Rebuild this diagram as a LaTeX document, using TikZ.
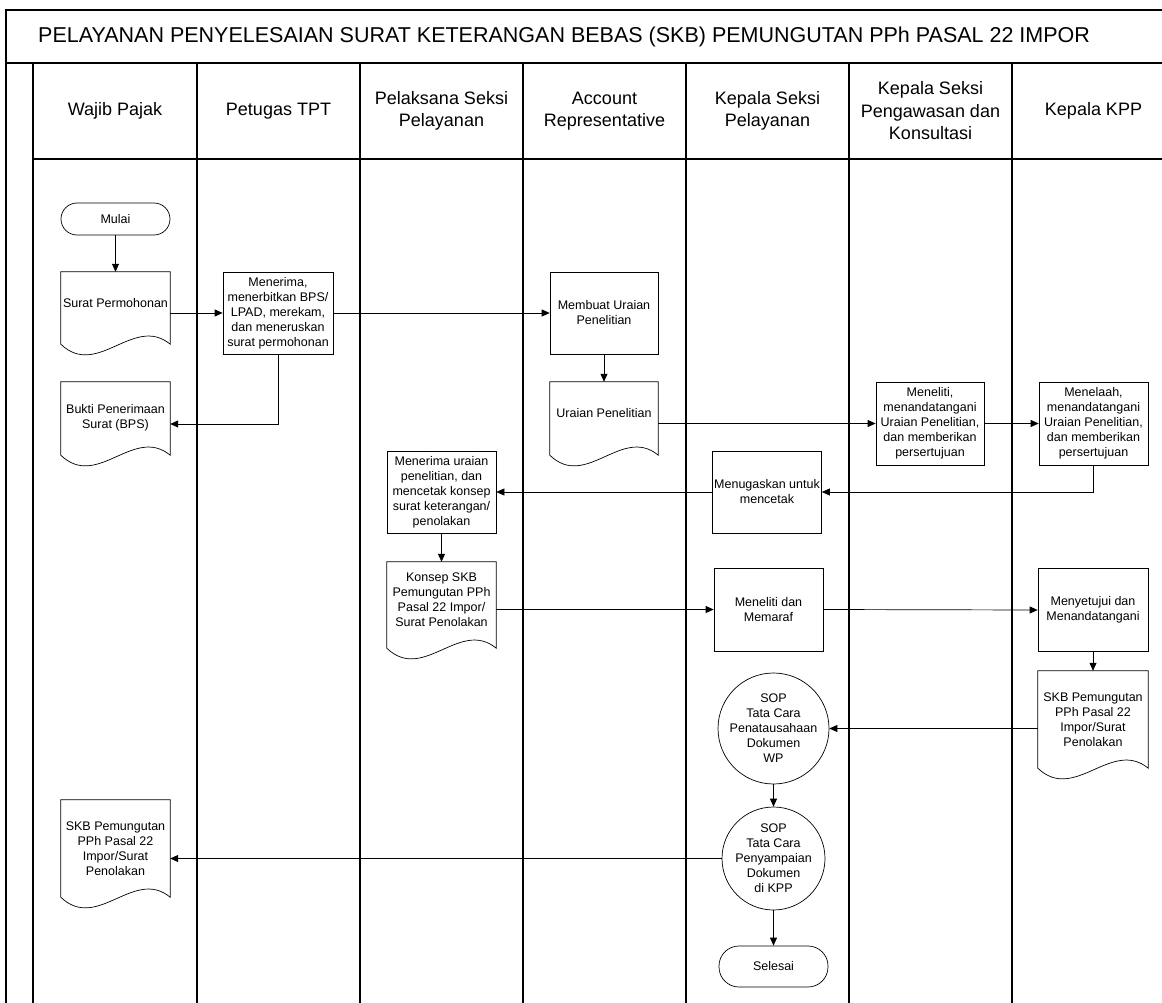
\documentclass[tikz,border=0pt]{standalone}
\usepackage{fontspec}
\setmainfont{Liberation Sans}
\usetikzlibrary{arrows.meta,calc,shapes.geometric}
\newcommand\drawdoc[2]{%
  \draw[docline] (#1.north west) -- (#1.north east) -- ($(#1.south east)+(0,#2)$)
    .. controls ($(#1.south west)!0.667!(#1.south east)+(0,#2-30)$) and ($(#1.south west)!0.333!(#1.south east)+(0,#2+35)$) ..
    ($(#1.south west)+(0,#2)$) -- cycle;}
\begin{document}
\begin{tikzpicture}[x=1pt,y=-1pt,
  frame/.style={line width=1.5pt},
  nfont/.style={font=\fontsize{12.5}{15}\selectfont},
  box/.style={draw, line width=0.7pt, rectangle, align=center, inner sep=1pt, nfont, minimum width=109pt, minimum height=82pt},
  docnode/.style={rectangle, align=center, inner sep=1pt, nfont, minimum width=109pt},
  docline/.style={line width=0.7pt},
  term/.style={draw, line width=0.7pt, rectangle, rounded corners=16pt, align=center, nfont, minimum width=109pt},
  circ/.style={draw, line width=0.7pt, circle, minimum size=97pt, inner sep=0pt, align=center, nfont},
  arr/.style={-{Triangle[length=8pt,width=7pt]}, line width=0.7pt},
  hdr/.style={align=center, font=\fontsize{18}{22.5}\selectfont},
]
\useasboundingbox (0,0) rectangle (1162,1003);
% frame
\draw[frame] (1162,10) -- (6,10) -- (6,1003);
\draw[frame] (6,63) -- (1162,63);
\draw[frame] (33,159) -- (1162,159);
\foreach \x in {33,197,360,523,686,849,1012} \draw[frame] (\x,63) -- (\x,1003);
\node[anchor=base west, font=\fontsize{21.5}{25}\selectfont, inner sep=0pt] (title) at (38,43) {PELAYANAN PENYELESAIAN SURAT KETERANGAN BEBAS (SKB) PEMUNGUTAN PPh PASAL 22 IMPOR};
% headers
\node[hdr] (h1) at (115,111) {Wajib Pajak};
\node[hdr] (h2) at (278.5,111) {Petugas TPT};
\node[hdr] (h3) at (441.5,111) {Pelaksana Seksi\\Pelayanan};
\node[hdr] (h4) at (604.5,111) {Account\\Representative};
\node[hdr] (h5) at (767.5,111) {Kepala Seksi\\Pelayanan};
\node[hdr] (h6) at (930.5,111) {Kepala Seksi\\Pengawasan dan\\Konsultasi};
\node[hdr] (h7) at (1093.5,111) {Kepala KPP};
% nodes
\node[term, minimum height=32pt] (mulai) at (115.5,219) {Mulai};
\node[docnode, minimum height=62pt] (sp) at (115.5,303) {Surat Permohonan};
\drawdoc{sp}{10}
\node[box, minimum width=110pt] (men) at (278,313) {Menerima,\\menerbitkan BPS/\\LPAD, merekam,\\dan meneruskan\\surat permohonan};
\node[docnode, minimum height=71pt] (bukti) at (115.5,417.5) {Bukti Penerimaan\\Surat (BPS)};
\drawdoc{bukti}{2}
\node[box, minimum width=108pt] (mub) at (604,313) {Membuat Uraian\\Penelitian};
\node[docnode, minimum width=108pt, minimum height=62pt] (ur) at (604,413) {Uraian Penelitian};
\drawdoc{ur}{11}
\node[box, minimum width=108pt, minimum height=83pt] (mel) at (930,423.5) {Meneliti,\\menandatangani\\Uraian Penelitian,\\dan memberikan\\persertujuan};
\node[box, minimum height=83pt] (mla) at (1093.5,423.5) {Menelaah,\\menandatangani\\Uraian Penelitian,\\dan memberikan\\persertujuan};
\node[box] (mtg) at (767,492) {Menugaskan untuk\\mencetak};
\node[box] (mru) at (441.5,492) {Menerima uraian\\penelitian, dan\\mencetak konsep\\surat keterangan/\\penolakan};
\node[docnode, minimum height=75pt] (kon) at (441.5,599.5) {Konsep SKB\\Pemungutan PPh\\Pasal 22 Impor/\\Surat Penolakan};
\drawdoc{kon}{11}
\node[box, minimum height=83pt] (mem) at (768.5,609.5) {Meneliti dan\\Memaraf};
\node[box, minimum width=110pt, minimum height=83pt] (mny) at (1093,610) {Menyetujui dan\\Menandatangani};
\node[docnode, minimum width=110pt, minimum height=97pt] (skbk) at (1093,719.5) {SKB Pemungutan\\PPh Pasal 22\\Impor/Surat\\Penolakan};
\drawdoc{skbk}{0}
\node[circ] (sop1) at (773.5,728.5) {SOP\\Tata Cara\\Penatausahaan\\Dokumen\\WP};
\node[circ] (sop2) at (773.5,858.5) {SOP\\Tata Cara\\Penyampaian\\Dokumen\\di KPP};
\node[term, minimum height=41pt, rounded corners=20pt] (sel) at (773.5,966.5) {Selesai};
\node[docnode, minimum height=97pt] (skbw) at (115.5,848.5) {SKB Pemungutan\\PPh Pasal 22\\Impor/Surat\\Penolakan};
\drawdoc{skbw}{0}
% connectors
\draw[arr] (mulai) -- (sp.north);
\draw[arr] (sp.east |- men.west) -- (men.west);
\draw[arr] (men.south) |- ([yshift=-6.5pt]bukti.east);
\draw[arr] (men.east) -- (mub.west);
\draw[arr] (mub.south) -- (ur.north);
\draw[arr] (ur.east |- mel.west) -- (mel.west);
\draw[arr] (mel.east) -- (mla.west);
\draw[arr] (mla.south) |- (mtg.east);
\draw[arr] (mtg.west) -- (mru.east);
\draw[arr] (mru.south) -- (kon.north);
\draw[arr] (kon.east |- mem.west) -- (mem.west);
\draw[arr] (mem.east) -- (mny.west);
\draw[arr] (mny.south) -- (skbk.north);
\draw[arr] (skbk.west |- sop1.east) -- (sop1.east);
\draw[arr] (sop1.south) -- (sop2.north);
\draw[arr] (sop2.west) -- (sop2.west -| skbw.east);
\draw[arr] (sop2.south) -- (sel.north);
\end{tikzpicture}
\end{document}
